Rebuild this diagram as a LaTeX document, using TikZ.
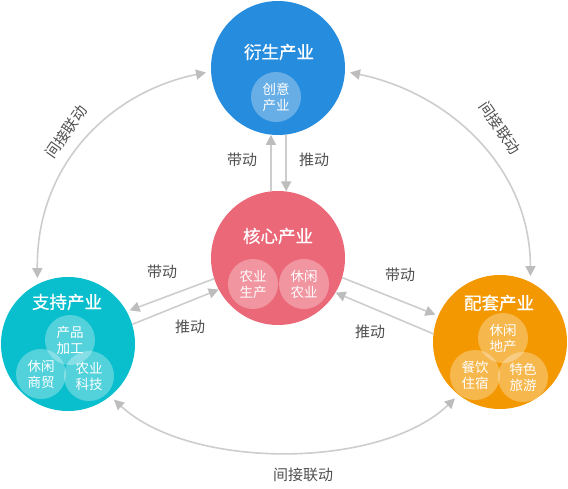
\documentclass[tikz,border=0pt]{standalone}
\usepackage{fontspec}
\newfontfamily\cjk{Noto Sans CJK SC}
\newfontfamily\cjkb{Noto Sans CJK SC}[FakeBold=0.6]
\usetikzlibrary{arrows.meta}
\definecolor{cblue}{HTML}{268CDE}
\definecolor{cpink}{HTML}{EB6878}
\definecolor{cteal}{HTML}{0ABFCD}
\definecolor{corange}{HTML}{F39800}
\definecolor{cline}{HTML}{CDCDCD}
\definecolor{chead}{HTML}{BDBDBD}
\definecolor{ctext}{HTML}{505050}
\tikzset{
  bigc/.style={circle,minimum size=134pt,inner sep=0pt,draw=none},
  smallc/.style={circle,minimum size=50pt,inner sep=0pt,fill=white,fill opacity=0.3,text opacity=1,text=white,font=\cjk\fontsize{13.5}{16}\selectfont,align=center},
  title/.style={text=white,font=\cjkb\fontsize{17.5}{20}\selectfont},
  lab/.style={text=ctext,font=\cjk\fontsize{15}{18}\selectfont},
  conn/.style={draw=cline,line width=1.6pt,-{Triangle[length=10pt,width=10pt,color=chead]}},
  bconn/.style={draw=cline,line width=1.6pt,{Triangle[length=10pt,width=10pt,color=chead]}-{Triangle[length=10pt,width=10pt,color=chead]}}
}
\begin{document}
\begin{tikzpicture}[x=1pt,y=-1pt]
\useasboundingbox (0,0) rectangle (568,488);
% big circles
\node[bigc,fill=cblue] (top) at (278,68) {};
\node[bigc,fill=cpink] (core) at (278,258) {};
\node[bigc,fill=cteal] (left) at (68,344) {};
\node[bigc,fill=corange] (right) at (500,342) {};
% titles
\node[title] (ttop) at (279,52) {衍生产业};
\node[title] (tcore) at (278,236) {核心产业};
\node[title] (tleft) at (67,302) {支持产业};
\node[title] (tright) at (499,303) {配套产业};
% inner circles
\node[smallc] (cy) at (276,97) {创意\\产业};
\node[smallc] (ny) at (253,284) {农业\\生产};
\node[smallc] (xx) at (304,284) {休闲\\农业};
\node[smallc] (cp) at (70,340) {产品\\加工};
\node[smallc] (xs) at (41,374) {休闲\\商贸};
\node[smallc] (nk) at (89,376) {农业\\科技};
\node[smallc] (xd) at (503,338) {休闲\\地产};
\node[smallc] (cz) at (475,375) {餐饮\\住宿};
\node[smallc] (ts) at (523,377) {特色\\旅游};
% vertical arrows
\draw[conn] (core.96) -- (top.264);
\draw[conn] (top.277) -- (core.83);
\node[lab] (l1) at (242,160) {带动};
\node[lab] (l2) at (314,160) {推动};
% left arrows
\draw[conn,shorten >=3pt] (core.198) -- (left.29);
\draw[conn] (left.17) -- (core.208);
\node[lab] (l3) at (162,272) {带动};
\node[lab] (l4) at (190,327) {推动};
% right arrows
\draw[conn,shorten >=3pt] (core.-17) -- (right.157);
\draw[conn] (right.173) -- (core.-31);
\node[lab] (l5) at (400,275) {带动};
\node[lab] (l6) at (370,332) {推动};
% curved indirect links
\draw[bconn,shorten <=6pt,shorten >=5pt] (left.117) .. controls (36,165) and (110,92) .. (top.183);
\draw[bconn,shorten <=5pt,shorten >=6pt] (top.-3) .. controls (446,92) and (530,165) .. (right.63);
\draw[bconn,shorten <=5pt,shorten >=5pt] (left.-51) .. controls (190,470) and (380,470) .. (right.-128);
\node[lab,rotate=55] (l7) at (66,132) {间接联动};
\node[lab,rotate=-55] (l8) at (500,128) {间接联动};
\node[lab] (l9) at (303,475) {间接联动};
\end{tikzpicture}
\end{document}
